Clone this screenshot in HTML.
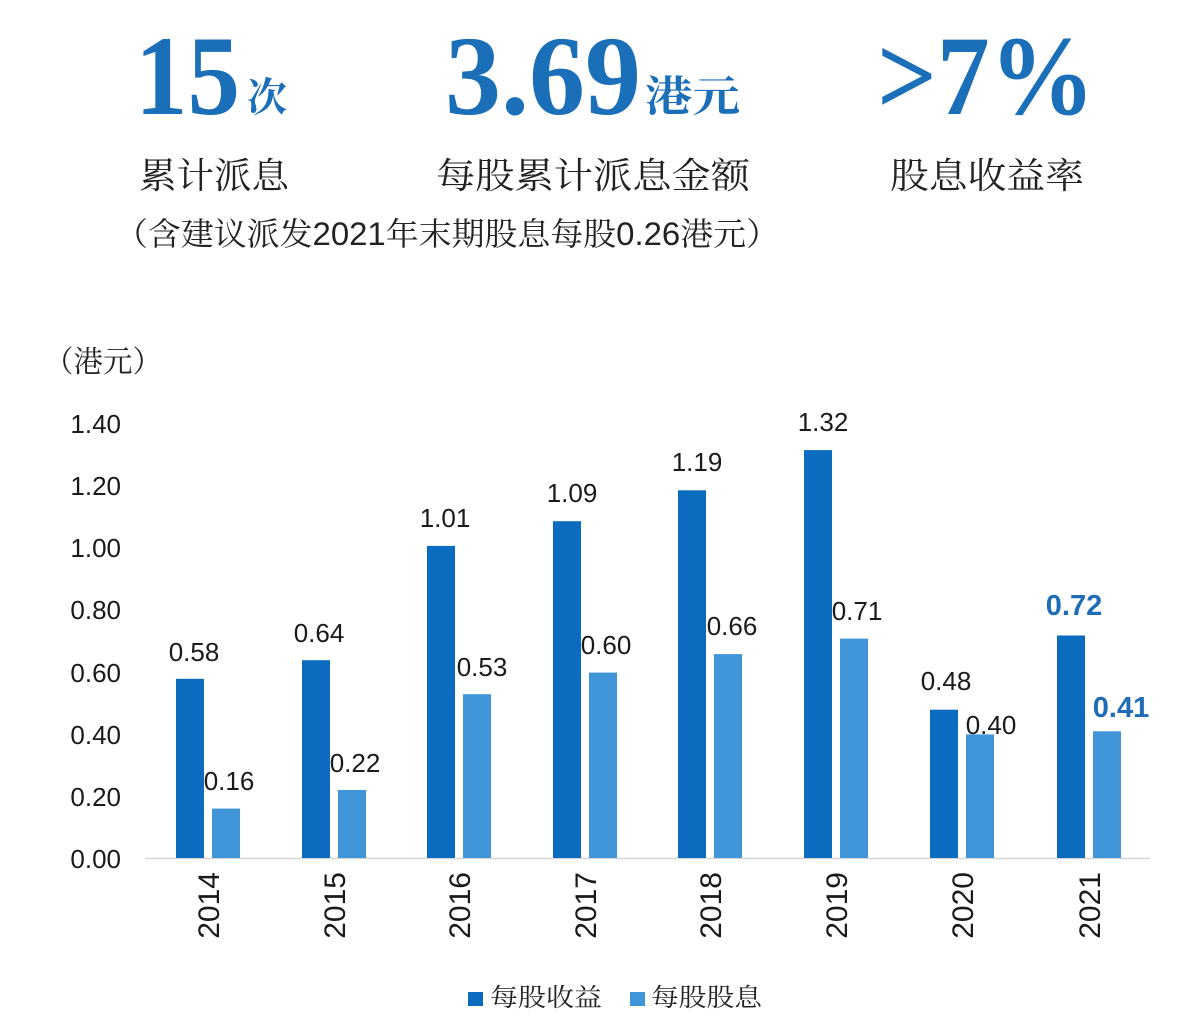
<!DOCTYPE html>
<html>
<head>
<meta charset="utf-8">
<style>
html,body{margin:0;padding:0;background:#fff;}
svg{display:block;}
.kai{font-family:"Noto Serif CJK SC","Liberation Serif",serif;}
.num{font-family:"Liberation Sans","Noto Sans CJK SC",sans-serif;}
</style>
</head>
<body>
<svg width="1204" height="1027" viewBox="0 0 1204 1027" xmlns="http://www.w3.org/2000/svg">
<rect width="1204" height="1027" fill="#ffffff"/>

<!-- Header big numbers -->
<g font-family="'Liberation Serif', serif" font-weight="bold" fill="#1b6fb9" font-size="113">
  <text x="135" y="114" textLength="105" lengthAdjust="spacingAndGlyphs">15</text>
  <text x="445" y="114" textLength="196" lengthAdjust="spacingAndGlyphs">3.69</text>
  <text x="877" y="114" textLength="218" lengthAdjust="spacingAndGlyphs">&gt;7%</text>
</g>
<g class="kai" fill="#1b6fb9" font-weight="bold">
  <text x="247" y="111" font-size="40">次</text>
  <text x="645" y="111" font-size="42" textLength="95" lengthAdjust="spacingAndGlyphs">港元</text>
</g>

<!-- Header labels -->
<g class="kai" fill="#222" font-size="36">
  <text x="139" y="188" textLength="150" lengthAdjust="spacingAndGlyphs">累计派息</text>
  <text x="436" y="188" textLength="314" lengthAdjust="spacingAndGlyphs">每股累计派息金额</text>
  <text x="890" y="188" textLength="194" lengthAdjust="spacingAndGlyphs">股息收益率</text>
</g>
<text x="115" y="245" font-size="32" fill="#222" font-family="'Liberation Sans','Noto Serif CJK SC',serif" textLength="664" lengthAdjust="spacingAndGlyphs">（含建议派发2021年末期股息每股0.26港元）</text>

<!-- Unit label -->
<text x="44" y="372" font-size="30" fill="#222" font-family="'Noto Serif CJK SC',serif" textLength="118" lengthAdjust="spacingAndGlyphs">（港元）</text>

<!-- Y axis labels -->
<g class="num" font-size="26" fill="#1a1a1a" text-anchor="end">
  <text x="121" y="433">1.40</text>
  <text x="121" y="495">1.20</text>
  <text x="121" y="557">1.00</text>
  <text x="121" y="619">0.80</text>
  <text x="121" y="682">0.60</text>
  <text x="121" y="744">0.40</text>
  <text x="121" y="806">0.20</text>
  <text x="121" y="868">0.00</text>
</g>

<!-- Axis line -->
<line x1="145" y1="858.5" x2="1150" y2="858.5" stroke="#d6d6d6" stroke-width="1.5"/>

<!-- Bars: EPS (dark) -->
<g fill="#0b6bbf">
  <rect x="176" y="678.8" width="28" height="179.2"/>
  <rect x="302" y="660.2" width="28" height="197.8"/>
  <rect x="427" y="545.9" width="28" height="312.1"/>
  <rect x="553" y="521.2" width="28" height="336.8"/>
  <rect x="678" y="490.3" width="28" height="367.7"/>
  <rect x="804" y="450.1" width="28" height="407.9"/>
  <rect x="930" y="709.7" width="28" height="148.3"/>
  <rect x="1057" y="635.5" width="28" height="222.5"/>
</g>
<!-- Bars: DPS (light) -->
<g fill="#3f95d8">
  <rect x="212" y="808.6" width="28" height="49.4"/>
  <rect x="338" y="790" width="28" height="68"/>
  <rect x="463" y="694.2" width="28" height="163.8"/>
  <rect x="589" y="672.6" width="28" height="185.4"/>
  <rect x="714" y="654.1" width="28" height="203.9"/>
  <rect x="840" y="638.6" width="28" height="219.4"/>
  <rect x="966" y="734.4" width="28" height="123.6"/>
  <rect x="1093" y="731.3" width="28" height="126.7"/>
</g>

<!-- Value labels -->
<g class="num" font-size="26" fill="#1a1a1a" text-anchor="middle">
  <text x="194" y="661">0.58</text>
  <text x="229" y="790">0.16</text>
  <text x="319" y="642">0.64</text>
  <text x="355" y="772">0.22</text>
  <text x="445" y="527">1.01</text>
  <text x="482" y="676">0.53</text>
  <text x="572" y="502">1.09</text>
  <text x="606" y="654">0.60</text>
  <text x="697" y="471">1.19</text>
  <text x="732" y="635">0.66</text>
  <text x="823" y="431">1.32</text>
  <text x="857" y="620">0.71</text>
  <text x="946" y="690">0.48</text>
  <text x="991" y="734">0.40</text>
</g>
<g class="num" font-size="29" font-weight="bold" fill="#1f6db6" text-anchor="middle">
  <text x="1074" y="615">0.72</text>
  <text x="1121" y="717">0.41</text>
</g>

<!-- Year labels (rotated) -->
<g class="num" font-size="30" fill="#1a1a1a" text-anchor="end">
  <text transform="translate(219,872) rotate(-90)">2014</text>
  <text transform="translate(345,872) rotate(-90)">2015</text>
  <text transform="translate(470,872) rotate(-90)">2016</text>
  <text transform="translate(596,872) rotate(-90)">2017</text>
  <text transform="translate(721,872) rotate(-90)">2018</text>
  <text transform="translate(847,872) rotate(-90)">2019</text>
  <text transform="translate(973,872) rotate(-90)">2020</text>
  <text transform="translate(1100,872) rotate(-90)">2021</text>
</g>

<!-- Legend -->
<rect x="468" y="992" width="15" height="14" fill="#0b6bbf"/>
<text x="490" y="1006" font-size="25" fill="#222" class="kai" textLength="112" lengthAdjust="spacingAndGlyphs">每股收益</text>
<rect x="630" y="992" width="15" height="14" fill="#3f95d8"/>
<text x="651" y="1006" font-size="25" fill="#222" class="kai" textLength="111" lengthAdjust="spacingAndGlyphs">每股股息</text>
</svg>
</body>
</html>
